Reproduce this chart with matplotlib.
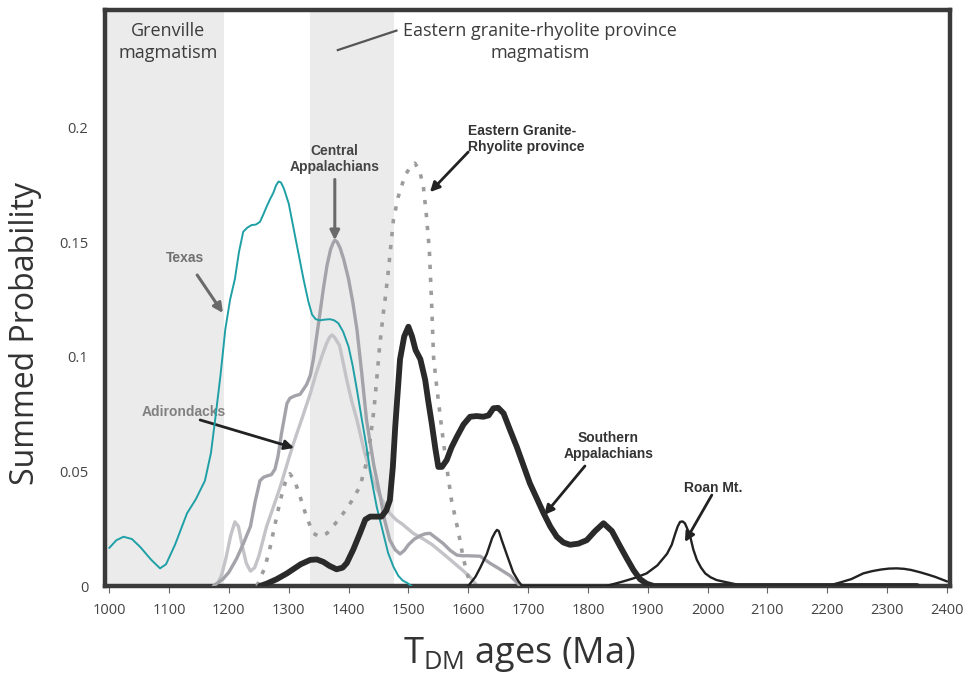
import matplotlib
matplotlib.use("Agg")
import matplotlib.pyplot as plt

# ---------------- data ----------------
texas_x = [1000, 1012, 1024, 1038, 1052, 1070, 1085, 1095, 1110, 1130, 1145, 1160, 1170, 1177,
           1186, 1194, 1202, 1210, 1217, 1224, 1231, 1238, 1245, 1252, 1258, 1263, 1269, 1274,
           1279, 1283, 1287, 1292, 1300, 1313, 1325, 1333, 1339, 1345, 1352, 1360, 1369, 1376,
           1383, 1391, 1400, 1407, 1414, 1422, 1430, 1438, 1447, 1458, 1466, 1475, 1483, 1490,
           1500, 1505]
texas_y = [0.0166, 0.02, 0.0215, 0.0205, 0.017, 0.0115, 0.0077, 0.0095, 0.018, 0.0317, 0.038,
           0.046, 0.058, 0.0725, 0.092, 0.112, 0.125, 0.134, 0.146, 0.1547, 0.1565, 0.1576,
           0.1578, 0.159, 0.1625, 0.1656, 0.169, 0.1715, 0.175, 0.1766, 0.1762, 0.1735, 0.167,
           0.1496, 0.1336, 0.124, 0.1185, 0.1165, 0.116, 0.1163, 0.1165, 0.116, 0.1147, 0.111,
           0.1045, 0.096, 0.0856, 0.073, 0.0608, 0.047, 0.0346, 0.023, 0.0145, 0.0084, 0.0045,
           0.0025, 0.001, 0.0]

central_x = [1174, 1190, 1200, 1213, 1225, 1236, 1244, 1252, 1258, 1263, 1271, 1277, 1282,
             1288, 1297, 1302, 1310, 1319, 1330, 1336, 1341, 1350, 1358, 1364, 1370, 1374,
             1377, 1381, 1386, 1392, 1400, 1407, 1414, 1422, 1430, 1442, 1453, 1461, 1469,
             1478, 1486, 1493, 1500, 1510, 1520, 1528, 1536, 1546, 1558, 1570, 1581, 1590,
             1600, 1620, 1636, 1650, 1670, 1687]
central_y = [0.0, 0.003, 0.006, 0.012, 0.019, 0.026, 0.037, 0.046, 0.0475, 0.048, 0.0486,
             0.051, 0.0565, 0.0667, 0.0797, 0.082, 0.083, 0.0837, 0.088, 0.092, 0.0987, 0.115,
             0.13, 0.14, 0.147, 0.1497, 0.151, 0.1502, 0.1475, 0.1425, 0.134, 0.124, 0.112,
             0.093, 0.0725, 0.053, 0.039, 0.028, 0.02, 0.0158, 0.014, 0.0155, 0.018, 0.0205,
             0.022, 0.0228, 0.023, 0.021, 0.0186, 0.0155, 0.0135, 0.0132, 0.0132, 0.013, 0.01,
             0.0078, 0.0045, 0.0]

adiron_x = [1180, 1188, 1195, 1203, 1210, 1216, 1222, 1229, 1236, 1243, 1250, 1256, 1263,
            1275, 1286, 1297, 1308, 1322, 1336, 1346, 1355, 1363, 1368, 1372, 1376, 1385, 1397,
            1405, 1414, 1427, 1441, 1455, 1469, 1480, 1490, 1508, 1525, 1540, 1564, 1590,
            1603, 1615]
adiron_y = [0.0, 0.005, 0.012, 0.022, 0.028, 0.026, 0.018, 0.01, 0.0065, 0.008, 0.013, 0.019,
            0.026, 0.035, 0.0434, 0.053, 0.0623, 0.073, 0.084, 0.093, 0.1, 0.1058, 0.1085,
            0.1096, 0.1088, 0.105, 0.09, 0.081, 0.0725, 0.058, 0.046, 0.038, 0.0317, 0.0288,
            0.027, 0.023, 0.0205, 0.018, 0.0128, 0.007, 0.004, 0.0]

egr_x = [1247, 1260, 1269, 1278, 1286, 1294, 1302, 1310, 1319, 1330, 1341, 1352, 1364, 1377,
         1391, 1405, 1419, 1428, 1436, 1442, 1447, 1452, 1458, 1461, 1467, 1475, 1483, 1494,
         1503, 1511, 1519, 1525, 1530, 1535, 1539, 1542, 1546, 1550, 1556, 1564, 1572, 1584,
         1591, 1598, 1605]
egr_y = [0.0, 0.008, 0.017, 0.028, 0.0375, 0.045, 0.049, 0.046, 0.039, 0.03, 0.023, 0.0215,
         0.023, 0.027, 0.0317, 0.037, 0.0434, 0.052, 0.0637, 0.076, 0.09, 0.105, 0.119, 0.125,
         0.139, 0.16, 0.17, 0.179, 0.183, 0.1846, 0.181, 0.1744, 0.162, 0.1467, 0.122, 0.1,
         0.09, 0.081, 0.068, 0.052, 0.0375, 0.023, 0.013, 0.0055, 0.0]

south_x = [1252, 1263, 1280, 1297, 1320, 1336, 1347, 1358, 1368, 1380, 1390, 1397, 1408, 1419,
           1428, 1436, 1455, 1463, 1469, 1474, 1478, 1486, 1493, 1500, 1506, 1512, 1520,
           1528, 1533, 1539, 1545, 1550, 1556, 1564, 1572, 1581, 1592, 1603, 1614, 1625,
           1634, 1642, 1650, 1659, 1670, 1681, 1692, 1703, 1715, 1726, 1737, 1748, 1759,
           1770, 1784, 1798, 1812, 1826, 1840, 1854, 1865, 1876, 1887, 1898, 1910, 2350]
south_y = [0.0, 0.001, 0.003, 0.0055, 0.0095, 0.0114, 0.0116, 0.0105, 0.0088, 0.0073, 0.008,
           0.01, 0.016, 0.023, 0.029, 0.0303, 0.0303, 0.033, 0.0375, 0.052, 0.0696, 0.099,
           0.109, 0.1132, 0.109, 0.103, 0.099, 0.09, 0.081, 0.071, 0.06, 0.052, 0.052, 0.055,
           0.0605, 0.0652, 0.0705, 0.0739, 0.0742, 0.0739, 0.0745, 0.0776, 0.0778, 0.0754,
           0.068, 0.0608, 0.0528, 0.0448, 0.038, 0.0317, 0.026, 0.0215, 0.019, 0.018, 0.0185,
           0.02, 0.024, 0.0274, 0.024, 0.0172, 0.012, 0.007, 0.003, 0.001, 0.0, 0.0]

roan_x = [1600, 1612, 1620, 1631, 1640, 1645, 1648, 1651, 1656, 1664, 1675, 1684, 1690, 1830,
          1845, 1859, 1878, 1898, 1916, 1932, 1940, 1946, 1950, 1954, 1958, 1962, 1966,
          1971, 1976, 1982, 1989, 1996, 2005, 2015, 2030, 2043, 2060, 2200, 2221, 2240,
          2260, 2275, 2290, 2303, 2316, 2328, 2340, 2355, 2368, 2380, 2390, 2400]
roan_y = [0.0, 0.004, 0.008, 0.014, 0.021, 0.0235, 0.0245, 0.024, 0.02, 0.014, 0.006, 0.002,
          0.0, 0.0, 0.001, 0.002, 0.0035, 0.0055, 0.009, 0.014, 0.018, 0.023, 0.026, 0.028,
          0.0282, 0.0274, 0.025, 0.0215, 0.016, 0.0114, 0.008, 0.0055, 0.0038, 0.0026,
          0.0017, 0.001, 0.0, 0.0, 0.0015, 0.003, 0.0055, 0.0065, 0.0072, 0.0076, 0.0077,
          0.0075, 0.007, 0.006, 0.005, 0.004, 0.003, 0.002]

grenville_span = (993, 1192)
egr_span = (1336, 1476)
x_ticks = list(range(1000, 2401, 100))
y_ticks = [0, 0.05, 0.1, 0.15, 0.2]
y_tick_labels = ["0", "0.05", "0.1", "0.15", "0.2"]

# ---------------- figure ----------------
W, H = 967, 694
fig = plt.figure(figsize=(W / 100, H / 100), dpi=100)
ax = fig.add_axes([105 / W, 1 - 586 / H, (950 - 105) / W, (586 - 10) / H])
ax.set_xlim(993, 2405)
ax.set_ylim(0, 0.2515)

ax.axvspan(*grenville_span, color="#ebebeb", zorder=0, lw=0)
ax.axvspan(*egr_span, color="#ebebeb", zorder=0, lw=0)

rnd = dict(solid_joinstyle="round", solid_capstyle="round")
ax.plot(adiron_x, adiron_y, color="#c3c3c8", lw=2.4, zorder=2, **rnd)
ax.plot(central_x, central_y, color="#a3a3aa", lw=2.4, zorder=3, **rnd)
ax.plot(egr_x, egr_y, color="#9c9c9c", lw=2.6, zorder=3, dashes=(1.2, 2.4))
ax.plot(texas_x, texas_y, color="#1fa0a6", lw=1.4, zorder=4, **rnd)
ax.plot(roan_x, roan_y, color="#222222", lw=1.7, zorder=5, **rnd)
ax.plot(south_x, south_y, color="#2a2a2a", lw=4.2, zorder=6, **rnd)

for s in ax.spines.values():
    s.set_color("#3a3a3a")
    s.set_linewidth(3.2)

ax.set_xticks(x_ticks)
ax.set_yticks(y_ticks)
ax.set_yticklabels(y_tick_labels)
ax.tick_params(axis="y", length=0, pad=12, labelsize=10.5, labelcolor="#444444")
ax.tick_params(axis="x", length=5, width=0.8, color="#666666", pad=7,
               labelsize=10.5, labelcolor="#444444")
for lab in ax.get_xticklabels() + ax.get_yticklabels():
    lab.set_family("Open Sans")

ax.set_ylabel("Summed Probability", fontsize=23, family="Open Sans", color="#333333")
ax.yaxis.set_label_coords(-0.074, 0.439)
ax.set_xlabel(r"T$_{\mathregular{DM}}$ ages (Ma)", fontsize=26, family="Open Sans",
              color="#333333")
ax.xaxis.set_label_coords(0.491, -0.085)

hdr = dict(fontsize=13, family="Open Sans", color="#3c3c3c", ha="center", va="center",
           linespacing=1.25)
ax.text(1098, 0.2375, "Grenville\nmagmatism", **hdr)
ax.text(1720, 0.2375, "Eastern granite-rhyolite province\nmagmatism", **hdr)
ax.plot([1382, 1480], [0.234, 0.2425], color="#555555", lw=1.6)

lab = dict(fontsize=10, family="Liberation Sans", weight="bold", linespacing=1.15)
arr_grey = dict(arrowstyle="-|>", color="#6a6a6a", lw=2.2, mutation_scale=14,
                shrinkA=0, shrinkB=0)
arr_black = dict(arrowstyle="-|>", color="#222222", lw=2.0, mutation_scale=14,
                 shrinkA=0, shrinkB=0)

ax.text(1127, 0.1432, "Texas", color="#707070", ha="center", va="center", **lab)
ax.annotate("", xy=(1190, 0.1192), xytext=(1147, 0.1358), arrowprops=arr_grey)

ax.text(1377, 0.1865, "Central\nAppalachians", color="#444444", ha="center", va="center",
        **lab)
ax.annotate("", xy=(1377, 0.151), xytext=(1377, 0.1775), arrowprops=arr_grey)

ax.text(1600, 0.1952, "Eastern Granite-\nRhyolite province", color="#333333", ha="left",
        va="center", **lab)
ax.annotate("", xy=(1536, 0.172), xytext=(1600, 0.1895), arrowprops=arr_black)

ax.text(1124, 0.076, "Adirondacks", color="#808080", ha="center", va="center", **lab)
ax.annotate("", xy=(1309, 0.0603), xytext=(1152, 0.0725), arrowprops=arr_black)

ax.text(1834, 0.0611, "Southern\nAppalachians", color="#333333", ha="center", va="center",
        **lab)
ax.annotate("", xy=(1727, 0.031), xytext=(1795, 0.0524), arrowprops=arr_black)

ax.text(2009, 0.0428, "Roan Mt.", color="#333333", ha="center", va="center", **lab)
ax.annotate("", xy=(1962, 0.0192), xytext=(2007, 0.0397), arrowprops=arr_black)

fig.savefig("out.png", dpi=100)
